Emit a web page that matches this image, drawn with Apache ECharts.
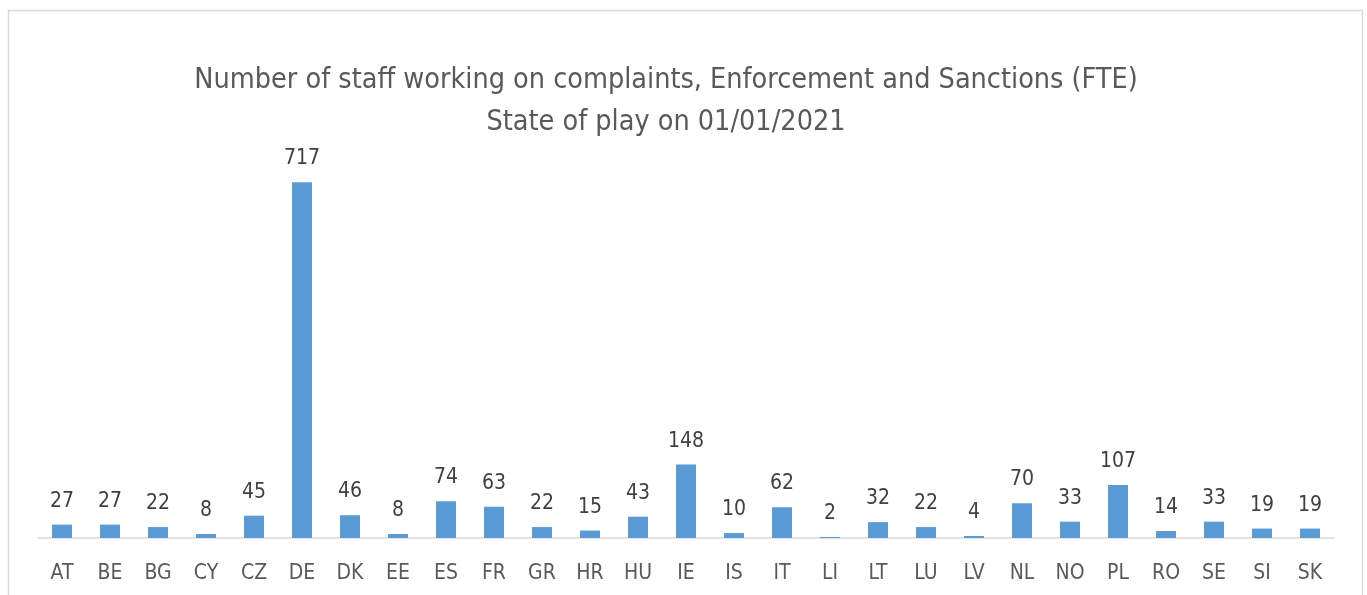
<!DOCTYPE html>
<html>
<head>
<meta charset="utf-8">
<script src="https://cdn.jsdelivr.net/npm/echarts@6/dist/echarts.min.js"></script>
<style>
html,body{margin:0;padding:0;background:#fff;}
#chart{width:1367px;height:595px;}
</style>
</head>
<body>
<div id="chart"></div>
<script>
const categories = ["AT","BE","BG","CY","CZ","DE","DK","EE","ES","FR","GR","HR","HU","IE","IS","IT","LI","LT","LU","LV","NL","NO","PL","RO","SE","SI","SK"];
const staffFTE = [27,27,22,8,45,717,46,8,74,63,22,15,43,148,10,62,2,32,22,4,70,33,107,14,33,19,19];
const titleLines = ["Number of staff working on complaints, Enforcement and Sanctions (FTE)", "State of play on 01/01/2021"];

const FONT = "'Liberation Sans Narrow', 'DejaVu Sans Condensed', 'Liberation Sans', sans-serif";
const chart = echarts.init(document.getElementById('chart'), null, {renderer: 'canvas'});
chart.setOption({
  animation: false,
  backgroundColor: '#ffffff',
  graphic: [{
    type: 'rect',
    shape: {x: 8.5, y: 10.5, width: 1354, height: 620},
    style: {fill: 'none', stroke: '#d9d9d9', lineWidth: 1.5},
    silent: true
  }],
  title: {
    text: titleLines.join('\n'),
    left: 661,
    top: 55,
    textAlign: 'center',
    textStyle: {
      fontFamily: FONT,
      fontSize: 28.5,
      fontWeight: 'normal',
      color: '#595959',
      lineHeight: 42
    }
  },
  grid: {left: 38, right: 33, top: 141, bottom: 57, containLabel: false},
  xAxis: {
    type: 'category',
    data: categories,
    axisLine: {show: true, lineStyle: {color: '#d9d9d9', width: 1.5}},
    axisTick: {show: false},
    axisLabel: {
      fontFamily: FONT,
      fontSize: 21,
      color: '#595959',
      margin: 25
    }
  },
  yAxis: {
    type: 'value',
    min: 0,
    max: 800,
    show: false,
    splitLine: {show: false}
  },
  series: [{
    type: 'bar',
    data: staffFTE,
    barWidth: 20,
    itemStyle: {color: '#5b9bd5'},
    label: {
      show: true,
      position: 'top',
      distance: 13,
      fontFamily: FONT,
      fontSize: 21,
      color: '#404040'
    }
  }]
});
</script>
</body>
</html>
